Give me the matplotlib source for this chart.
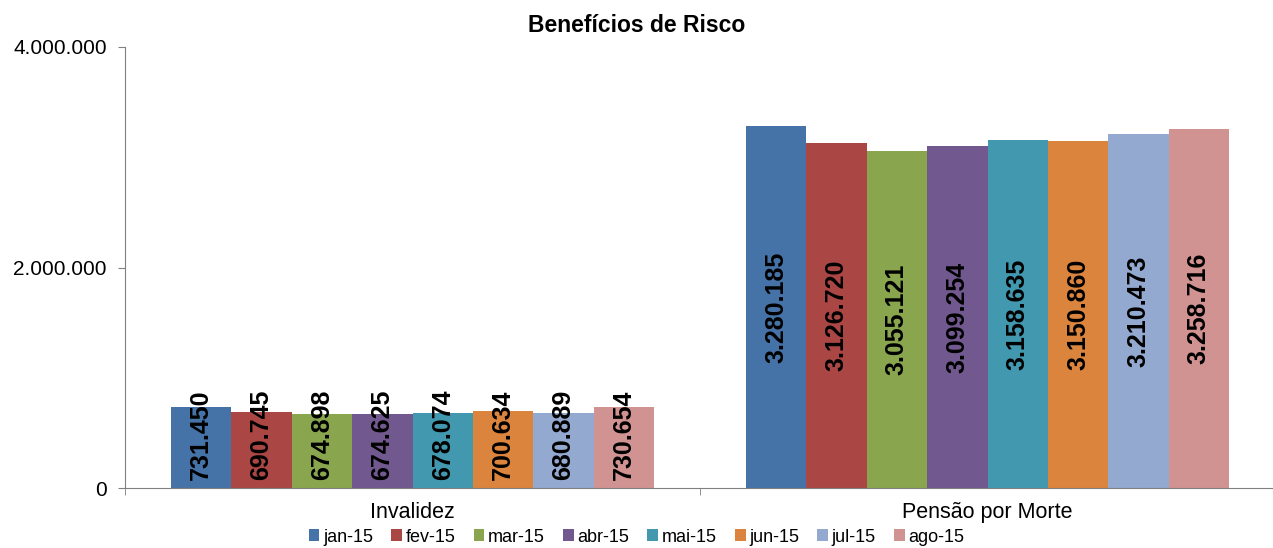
import numpy as np
import matplotlib
matplotlib.use('Agg')
import matplotlib.pyplot as plt
from matplotlib.ticker import FuncFormatter

plt.rcParams['font.family'] = ['Liberation Sans', 'DejaVu Sans']

categories = ['Invalidez', 'Pensão por Morte']
months = ['jan-15', 'fev-15', 'mar-15', 'abr-15', 'mai-15', 'jun-15', 'jul-15', 'ago-15']
invalidez = [731450, 690745, 674898, 674625, 678074, 700634, 680889, 730654]
pensao = [3280185, 3126720, 3055121, 3099254, 3158635, 3150860, 3210473, 3258716]
colors = ['#4572A7', '#AA4643', '#89A54E', '#71588F', '#4198AF', '#DB843D', '#93A9CF', '#D19392']

fig = plt.figure(figsize=(12.73, 5.48), dpi=100)
ax = fig.add_axes([125 / 1273, 60 / 548, 1150 / 1273, 441 / 548])

x = np.arange(len(categories))
n = len(months)
width = 0.84 / n

def fmt(v):
    return '{:,.0f}'.format(v).replace(',', '.')

for i, m in enumerate(months):
    vals = [invalidez[i], pensao[i]]
    pos = x - 0.42 + width * (i + 0.5)
    ax.bar(pos, vals, width, color=colors[i], label=m, linewidth=0)
    for p, v in zip(pos, vals):
        ax.text(p, max(v / 2, 480000), fmt(v), rotation=90, ha='center', va='center',
                fontsize=18, fontweight='bold', color='black')

ax.set_xlim(-0.5, 1.5)
ax.set_ylim(0, 4000000)
ax.set_yticks([0, 2000000, 4000000])
ax.yaxis.set_major_formatter(FuncFormatter(lambda v, p: fmt(v)))
ax.set_xticks(x)
ax.set_xticklabels(categories)
ax.set_xticks([-0.5, 0.5, 1.5], minor=True)
ax.tick_params(axis='x', which='major', length=0, labelsize=15.5, pad=10)
ax.tick_params(axis='x', which='minor', length=5, color='#808080')
ax.tick_params(axis='y', length=5, color='#808080', labelsize=15, pad=8)

for s in ['top', 'right']:
    ax.spines[s].set_visible(False)
for s in ['left', 'bottom']:
    ax.spines[s].set_color('#808080')

fig.text(0.5, 1 - 25 / 548, 'Benefícios de Risco', ha='center', va='center',
         fontsize=16.5, fontweight='bold')

fig.legend(loc='center', bbox_to_anchor=(0.5, 1 - 537 / 548), ncol=8, frameon=False,
           fontsize=13, handlelength=0.6, handleheight=0.6, handletextpad=0.2,
           columnspacing=1.0, borderpad=0)

fig.savefig('out.png', dpi=100)
